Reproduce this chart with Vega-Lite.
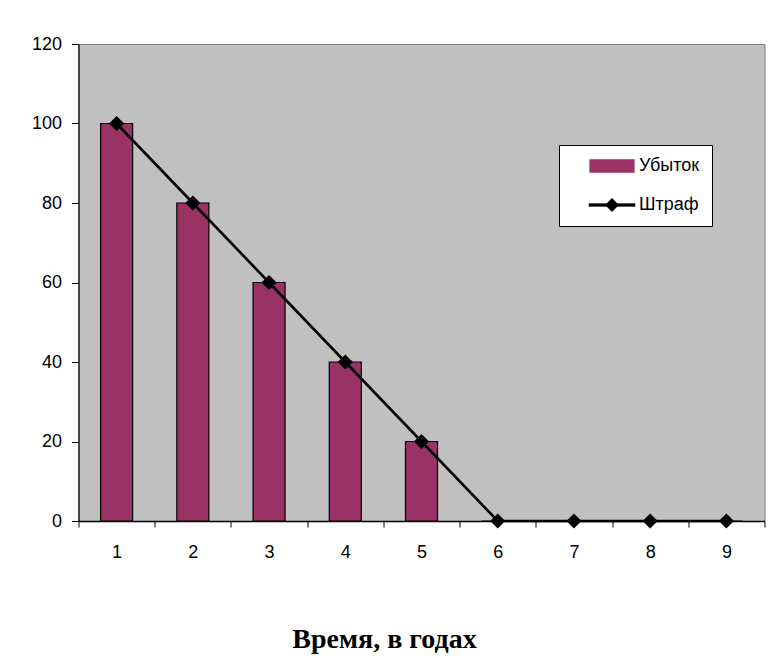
{
  "$schema": "https://vega.github.io/schema/vega-lite/v6.json",
  "width": 686,
  "height": 477,
  "autosize": {"type": "none"},
  "padding": {"left": 78.5, "top": 44, "right": 7.5, "bottom": 137},
  "background": "white",
  "data": {
    "values": [
      {"year": "1", "loss": 100, "fine": 100},
      {"year": "2", "loss": 80, "fine": 80},
      {"year": "3", "loss": 60, "fine": 60},
      {"year": "4", "loss": 40, "fine": 40},
      {"year": "5", "loss": 20, "fine": 20},
      {"year": "6", "loss": 0, "fine": 0},
      {"year": "7", "loss": 0, "fine": 0},
      {"year": "8", "loss": 0, "fine": 0},
      {"year": "9", "loss": 0, "fine": 0}
    ]
  },
  "encoding": {
    "x": {
      "field": "year",
      "type": "ordinal",
      "sort": null,
      "scale": {"paddingInner": 0, "paddingOuter": 0},
      "axis": {
        "title": "Время, в годах",
        "titleFont": "Liberation Serif",
        "titleFontSize": 28,
        "titleFontWeight": "bold",
        "titleColor": "black",
        "titleX": 305.5,
        "titleY": 126.3,
        "titleAlign": "center",
        "titleBaseline": "alphabetic",
        "labelAngle": 0,
        "labelFont": "Liberation Sans",
        "labelFontSize": 18,
        "labelColor": "black",
        "labelPadding": 16,
        "tickBand": "extent",
        "tickSize": 6,
        "tickColor": "black",
        "domainColor": "black",
        "domainWidth": 1.5,
        "grid": false
      }
    }
  },
  "layer": [
    {
      "mark": {"type": "bar", "width": {"band": 0.42}, "stroke": "black", "strokeWidth": 1.2},
      "encoding": {
        "y": {
          "field": "loss",
          "type": "quantitative",
          "scale": {"domain": [0, 120], "nice": false},
          "axis": {
            "title": null,
            "values": [0, 20, 40, 60, 80, 100, 120],
            "labelFont": "Liberation Sans",
            "labelFontSize": 18,
            "labelColor": "black",
            "labelPadding": 10,
            "tickSize": 7,
            "tickColor": "black",
            "domainColor": "black",
            "domainWidth": 1.2,
            "grid": false
          }
        },
        "color": {
          "datum": "Убыток",
          "type": "nominal",
          "scale": {"domain": ["Убыток", "Штраф"], "range": ["#993366", "#000000"]},
          "legend": {
            "title": null,
            "orient": "none",
            "legendX": 480.5,
            "legendY": 101,
            "fillColor": "white",
            "strokeColor": "black",
            "padding": 12,
            "symbolOffset": 32,
            "symbolSize": 484,
            "labelOffset": 18,
            "rowPadding": 21,
            "labelFont": "Liberation Sans",
            "labelFontSize": 18,
            "labelColor": "black",
            "labelBaseline": "middle",
            "symbolOpacity": 1,
            "encoding": {
              "symbols": {
                "shape": {"value": {"expr": "datum.value === 'Убыток' ? 'M-2,-0.55H2V0.55H-2Z' : 'M-2.1,-0.13H2.1V0.13H-2.1Z M0,-0.62L0.62,0L0,0.62L-0.62,0Z'"}},
                "fill": {"value": {"expr": "datum.value === 'Убыток' ? '#993366' : '#000000'"}},
                "stroke": {"value": "black"},
                "strokeWidth": {"value": {"expr": "datum.value === 'Убыток' ? 1.2 : 0.3"}},
                "fillOpacity": {"value": 1}
              }
            }
          }
        }
      }
    },
    {
      "mark": {
        "type": "line",
        "strokeWidth": 2.6,
        "clip": false,
        "point": {"shape": "diamond", "size": 230, "filled": true, "color": "black", "opacity": 1}
      },
      "encoding": {
        "y": {"field": "fine", "type": "quantitative"},
        "color": {"datum": "Штраф", "type": "nominal"}
      }
    }
  ],
  "config": {
    "view": {"fill": "#C0C0C0", "stroke": "#808080", "strokeWidth": 1},
    "font": "Liberation Sans"
  }
}
